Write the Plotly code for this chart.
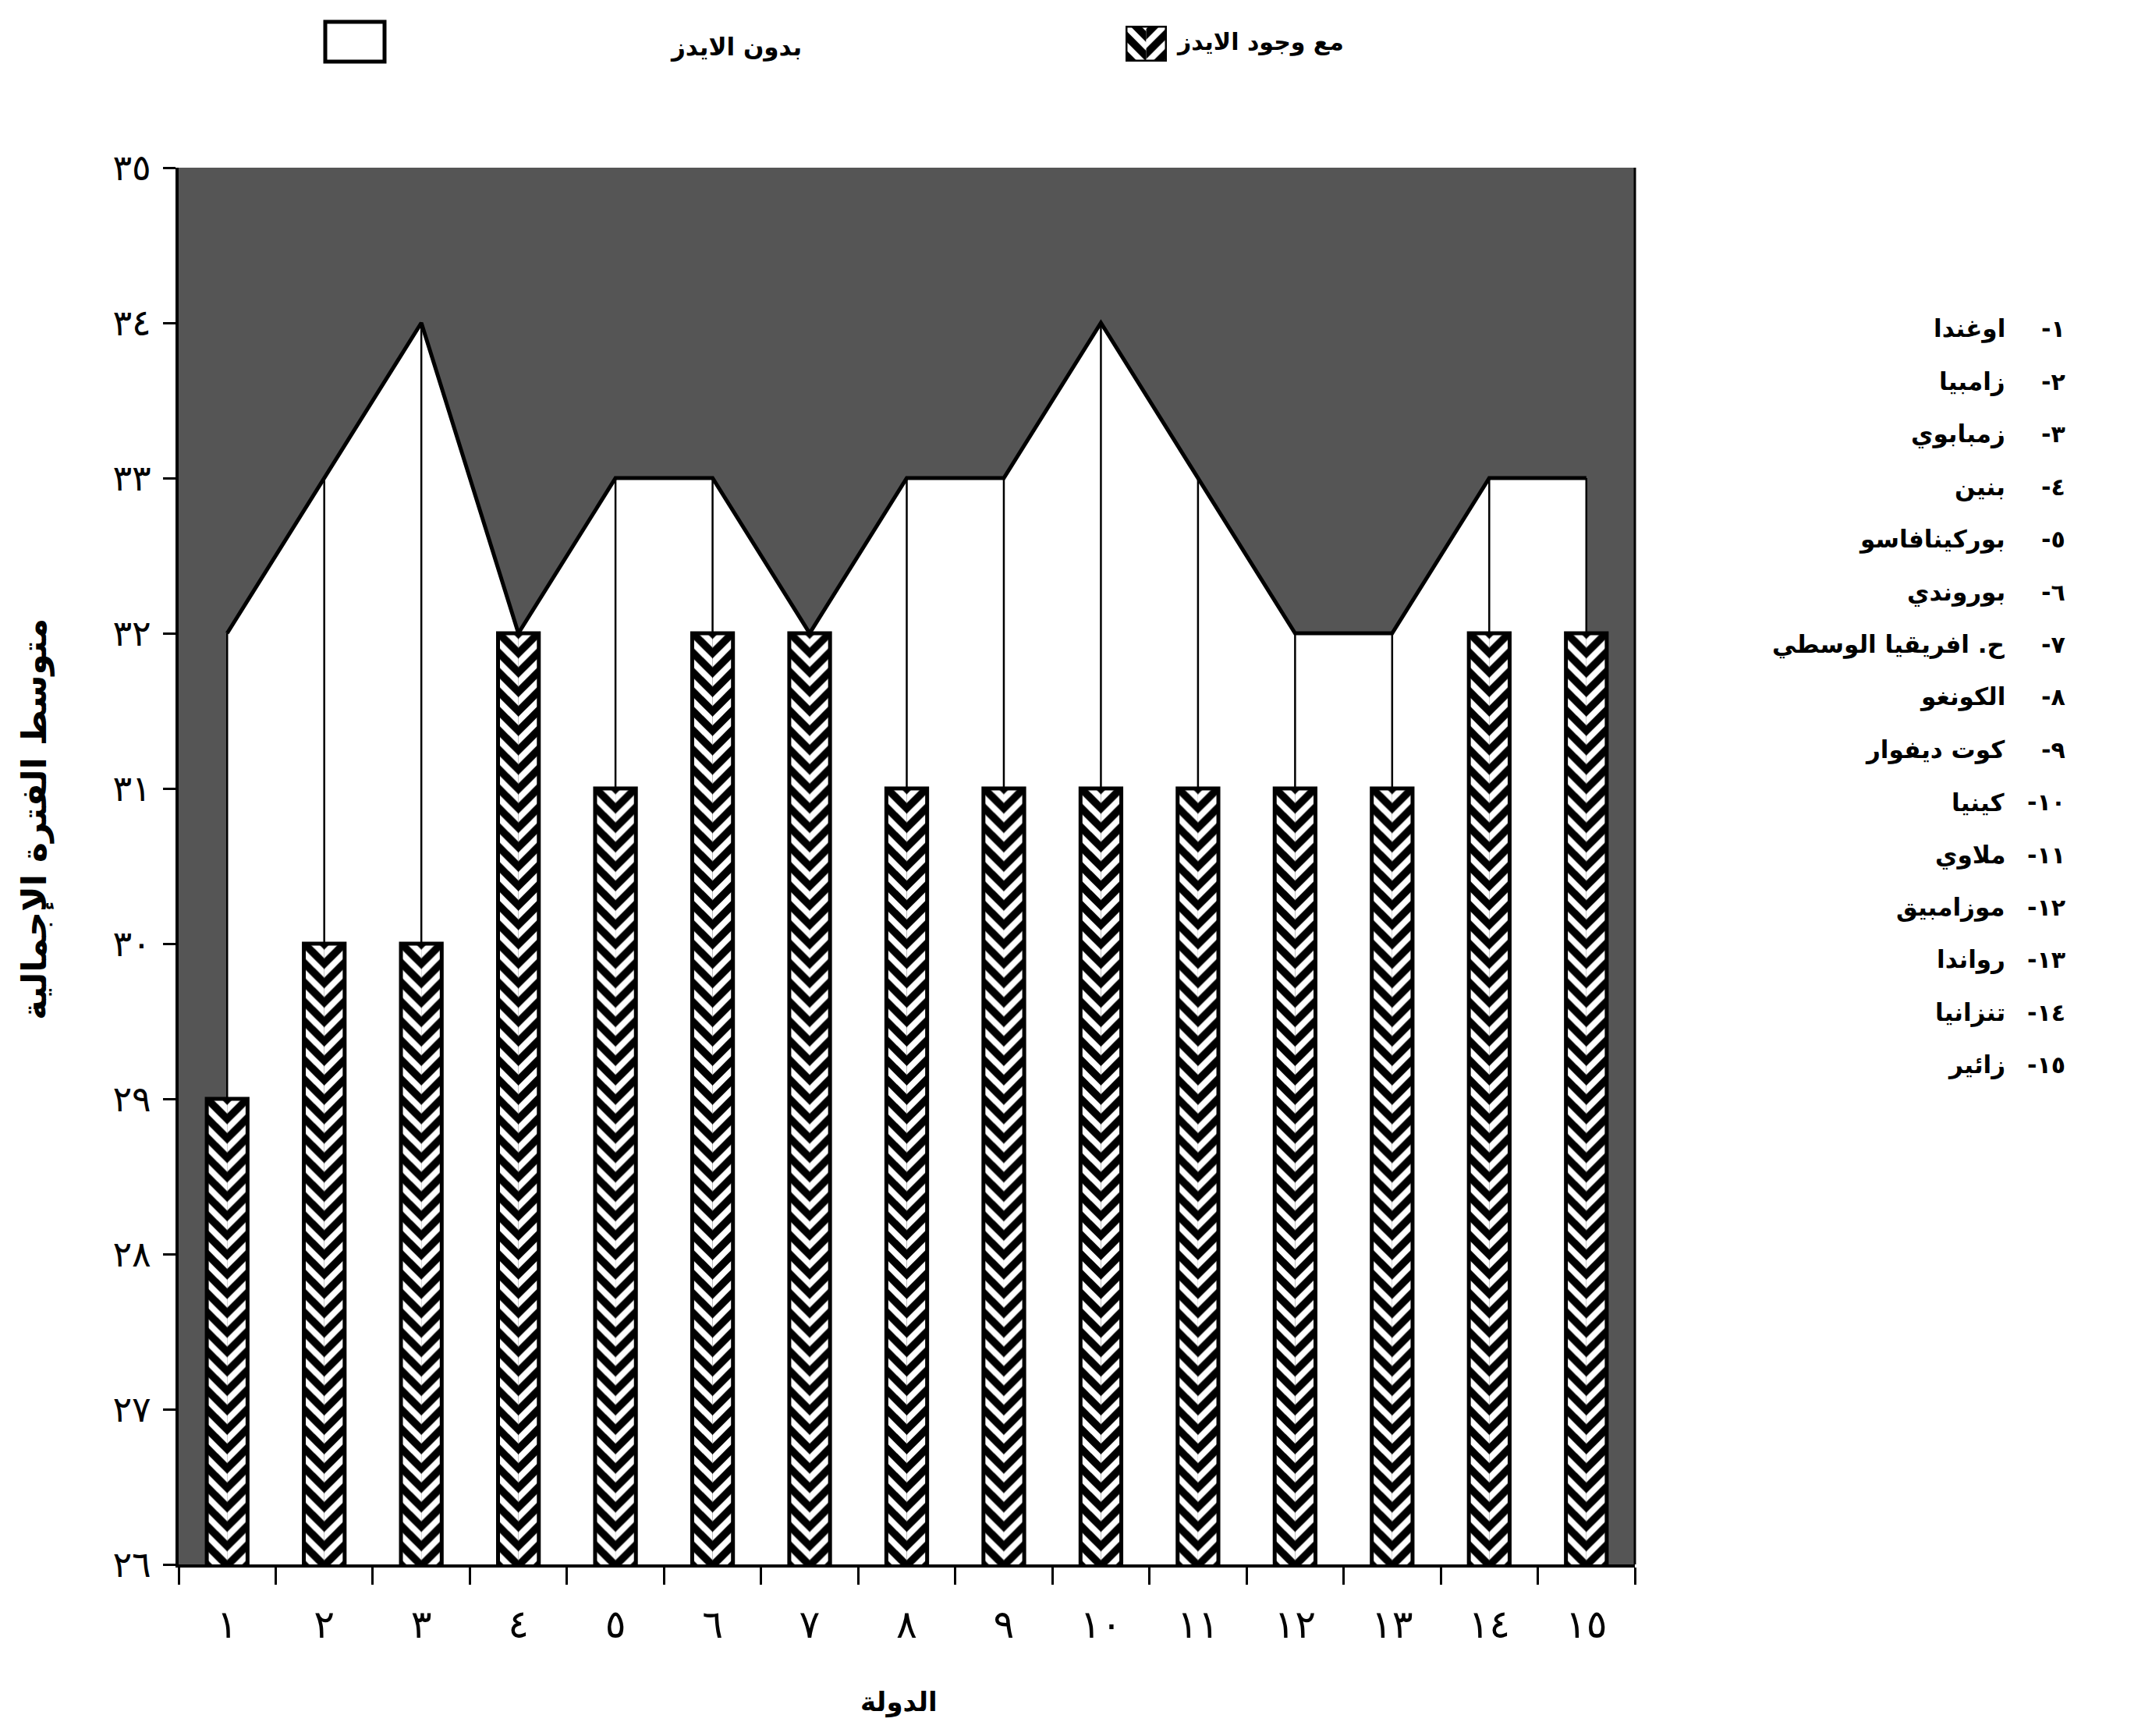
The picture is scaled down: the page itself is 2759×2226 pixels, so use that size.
import math
import plotly.graph_objects as go

# ---------------- data ----------------
COUNTRY_NUMS = ["١", "٢", "٣", "٤", "٥", "٦", "٧", "٨", "٩", "١٠", "١١", "١٢", "١٣", "١٤", "١٥"]
COUNTRIES = ["اوغندا", "زامبيا", "زمبابوي", "بنين", "بوركينافاسو", "بوروندي",
             "ح. افريقيا الوسطي", "الكونغو", "كوت ديفوار", "كينيا", "ملاوي",
             "موزامبيق", "رواندا", "تنزانيا", "زائير"]
WITHOUT_AIDS = [32, 33, 34, 32, 33, 33, 32, 33, 33, 34, 33, 32, 32, 33, 33]
WITH_AIDS = [29, 30, 30, 32, 31, 32, 32, 31, 31, 31, 31, 31, 31, 32, 32]
Y_TICKS = [26, 27, 28, 29, 30, 31, 32, 33, 34, 35]
Y_TICK_LABELS = ["٢٦", "٢٧", "٢٨", "٢٩", "٣٠", "٣١", "٣٢", "٣٣", "٣٤", "٣٥"]
SERIES_WITH = "مع وجود الايدز"
SERIES_WITHOUT = "بدون الايدز"
Y_TITLE = "متوسط الفترة الإجمالية"
X_TITLE = "الدولة"

# ---------------- geometry ----------------
W, H = 2759, 2226
L, R, T, B = 229, 663, 20, 220
PLOT_TOP_PX = 215
PW = W - L - R
PH = H - T - B
Y_MIN, Y_MAX = Y_TICKS[0], Y_TICKS[-1]


def px_x(px):
    return (px - L) / PW


def px_y(py):
    return (H - B - py) / PH


MAIN_TOP = px_y(PLOT_TOP_PX)
N = len(COUNTRY_NUMS)
CATW = PW / N
BAR_W = 0.42
PAT_SIZE = (CATW / 5) / math.sqrt(2)
FONT = "DejaVu Sans"
BG = "#555555"

fig = go.Figure()

# white area (without AIDS)
fig.add_trace(go.Scatter(
    x=COUNTRY_NUMS, y=WITHOUT_AIDS, mode="lines", fill="tozeroy",
    fillcolor="white", line=dict(color="black", width=5),
    xaxis="x", yaxis="y", showlegend=False, hoverinfo="skip"))

# drop lines
dx, dy = [], []
for c, v in zip(COUNTRY_NUMS, WITHOUT_AIDS):
    dx += [c, c, None]
    dy += [v, Y_MIN, None]
fig.add_trace(go.Scatter(
    x=dx, y=dy, mode="lines", line=dict(color="black", width=2.5),
    xaxis="x", yaxis="y", showlegend=False, hoverinfo="skip"))


def pattern(shape):
    return dict(shape=shape, fgcolor="white", bgcolor="black",
                size=PAT_SIZE, solidity=0.45, fillmode="replace")


# bars (with AIDS) on overlay axes so they sit above the area
fig.add_trace(go.Bar(
    x=COUNTRY_NUMS, y=WITH_AIDS, width=BAR_W / 2, offset=-BAR_W / 2,
    marker=dict(color="black", line=dict(width=0), pattern=pattern("\\")),
    xaxis="x2", yaxis="y2", showlegend=False, hoverinfo="skip"))
fig.add_trace(go.Bar(
    x=COUNTRY_NUMS, y=WITH_AIDS, width=BAR_W / 2, offset=0,
    marker=dict(color="black", line=dict(width=0), pattern=pattern("/")),
    xaxis="x2", yaxis="y2", showlegend=False, hoverinfo="skip"))
fig.add_trace(go.Bar(
    x=COUNTRY_NUMS, y=WITH_AIDS, width=BAR_W, offset=-BAR_W / 2,
    marker=dict(color="rgba(0,0,0,0)", line=dict(color="black", width=5)),
    xaxis="x2", yaxis="y2", showlegend=False, hoverinfo="skip"))

# legend swatch (hatched) in its own little axes
SW = [1]
fig.add_trace(go.Bar(x=[0], y=SW, width=0.5, offset=-0.5,
                     marker=dict(color="black", line=dict(width=0), pattern=pattern("\\")),
                     xaxis="x3", yaxis="y3", showlegend=False, hoverinfo="skip"))
fig.add_trace(go.Bar(x=[0], y=SW, width=0.5, offset=0,
                     marker=dict(color="black", line=dict(width=0), pattern=pattern("/")),
                     xaxis="x3", yaxis="y3", showlegend=False, hoverinfo="skip"))
fig.add_trace(go.Bar(x=[0], y=SW, width=1, offset=-0.5,
                     marker=dict(color="rgba(0,0,0,0)", line=dict(color="black", width=5)),
                     xaxis="x3", yaxis="y3", showlegend=False, hoverinfo="skip"))

fig.update_layout(
    width=W, height=H,
    margin=dict(l=L, r=R, t=T, b=B, autoexpand=False),
    paper_bgcolor="white", plot_bgcolor="white",
    barmode="overlay", showlegend=False,
    font=dict(family=FONT, color="black"),
    xaxis=dict(type="category", categoryarray=COUNTRY_NUMS, range=[-0.5, N - 0.5],
               domain=[0, 1], anchor="y", tickson="boundaries", ticks="outside",
               ticklen=22, tickwidth=3, tickcolor="black", showline=True,
               linewidth=4, linecolor="black", showgrid=False, zeroline=False,
               tickfont=dict(family=FONT, size=50, color="black"),
               ticklabelstandoff=30, automargin=False, fixedrange=True),
    yaxis=dict(range=[Y_MIN, Y_MAX], domain=[0, MAIN_TOP], anchor="x",
               tickvals=Y_TICKS, ticktext=Y_TICK_LABELS, ticks="outside",
               ticklen=16, tickwidth=3, tickcolor="black", showline=True,
               linewidth=4, linecolor="black", showgrid=False, zeroline=False,
               tickfont=dict(family=FONT, size=46, color="black"),
               ticklabelstandoff=6, automargin=False, fixedrange=True),
    xaxis2=dict(type="category", categoryarray=COUNTRY_NUMS, range=[-0.5, N - 0.5],
                overlaying="x", anchor="y2", visible=False, fixedrange=True),
    yaxis2=dict(range=[Y_MIN, Y_MAX], overlaying="y", anchor="x2", visible=False,
                fixedrange=True),
    xaxis3=dict(range=[-0.5, 0.5], domain=[px_x(1443), px_x(1496)], anchor="y3",
                visible=False, fixedrange=True),
    yaxis3=dict(range=[0, 1], domain=[px_y(79), px_y(33)], anchor="x3",
                visible=False, fixedrange=True),
)

# dark background of the plot area
fig.add_shape(type="rect", xref="x domain", yref="y domain", x0=0, x1=1, y0=0, y1=1,
              fillcolor=BG, line=dict(width=0), layer="below")
# right edge of the plot area
fig.add_shape(type="line", xref="x domain", yref="y domain", x0=1, x1=1, y0=0, y1=1,
              line=dict(color="black", width=3), layer="below")

# legend: white swatch
fig.add_shape(type="rect", xref="paper", yref="paper",
              x0=px_x(417), x1=px_x(493), y0=px_y(79), y1=px_y(28),
              fillcolor="white", line=dict(color="black", width=5))

annots = []
annots.append(dict(text="<b>" + SERIES_WITH + "</b>", xref="paper", yref="paper",
                   x=px_x(1506), y=px_y(54), xanchor="left", yanchor="middle", showarrow=False,
                   font=dict(family=FONT, size=30, color="black")))
annots.append(dict(text="<b>" + SERIES_WITHOUT + "</b>", xref="paper", yref="paper",
                   x=px_x(1030), y=px_y(60), xanchor="right", yanchor="middle", showarrow=False,
                   font=dict(family=FONT, size=31, color="black")))
# axis titles
annots.append(dict(text="<b>" + Y_TITLE + "</b>", xref="paper", yref="paper",
                   x=px_x(44), y=px_y(1051), textangle=-90, xanchor="center", yanchor="middle",
                   showarrow=False, font=dict(family=FONT, size=44, color="black")))
annots.append(dict(text="<b>" + X_TITLE + "</b>", xref="paper", yref="paper",
                   x=px_x(1152), y=px_y(2182), xanchor="center", yanchor="middle",
                   showarrow=False, font=dict(family=FONT, size=34, color="black")))
# country key
ROW0, ROWSTEP = 422, 67.4
for i, (num, name) in enumerate(zip(COUNTRY_NUMS, COUNTRIES)):
    yy = px_y(ROW0 + i * ROWSTEP)
    annots.append(dict(text="<b>-" + num + "</b>", xref="paper", yref="paper", x=px_x(2650), y=yy,
                       xanchor="right", yanchor="middle", showarrow=False,
                       font=dict(family=FONT, size=30, color="black")))
    annots.append(dict(text="<b>" + name + "</b>", xref="paper", yref="paper", x=px_x(2573), y=yy,
                       xanchor="right", yanchor="middle", showarrow=False,
                       font=dict(family=FONT, size=31, color="black")))
fig.update_layout(annotations=annots)

fig.write_html("out.html", config={"displayModeBar": False},
               post_script="document.body.style.margin='0';")
